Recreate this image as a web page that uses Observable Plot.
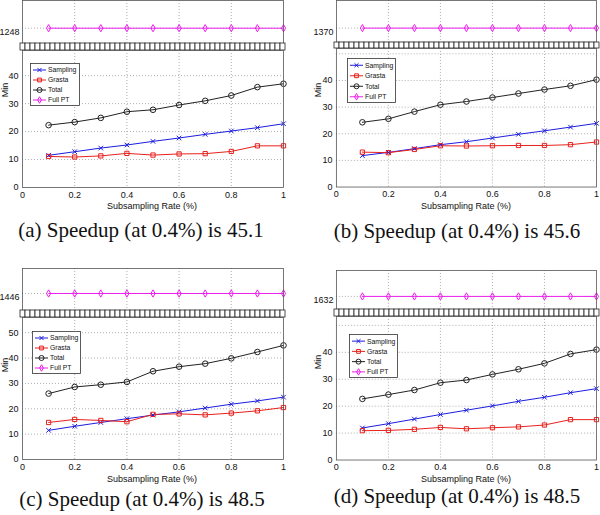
<!DOCTYPE html>
<html><head><meta charset="utf-8">
<script src="https://cdn.jsdelivr.net/npm/d3@7"></script>
<script src="https://cdn.jsdelivr.net/npm/@observablehq/plot@0.6"></script>
<style>
body{margin:0;background:#fff;}
#fig{position:relative;width:600px;height:515px;overflow:hidden;font-family:"Liberation Sans",Arial,sans-serif;background:#fff;}
#fig > div, #fig > svg{position:absolute;}
.lbl{font-size:9px;color:#111;white-space:nowrap;transform:translate(-50%,-50%);line-height:9px;}
.ylbl{font-size:9px;color:#111;white-space:nowrap;transform:translate(-50%,-50%) rotate(-90deg);line-height:9px;}
.cap{font-family:"Liberation Serif","Times New Roman",serif;font-size:21px;color:#111;white-space:nowrap;transform:translate(-50%,-50%);line-height:21px;}
</style></head><body><div id="fig"></div>
<script>
// ---------------- data ----------------
const rates = [0.1, 0.2, 0.3, 0.4, 0.5, 0.6, 0.7, 0.8, 0.9, 1.0];
const xTicks = [0, 0.2, 0.4, 0.6, 0.8, 1];
const xTickLabels = ["0", "0.2", "0.4", "0.6", "0.8", "1"];
const seriesNames = ["Sampling", "Grasta", "Total", "Full PT"];
const xLabel = "Subsampling Rate (%)";
const yLabel = "Min";

const samplingA = [11.5, 12.8, 14.1, 15.2, 16.5, 17.7, 19.0, 20.2, 21.4, 22.8];
const grastaA   = [11.1, 10.9, 11.3, 12.2, 11.6, 12.0, 12.1, 12.9, 14.9, 14.9];
const totalA    = [22.3, 23.4, 24.9, 27.1, 27.8, 29.5, 31.0, 32.9, 35.9, 37.1];
const fullPTA   = 1248;
const yTicksA   = [0, 10, 20, 30, 40];

const samplingB = [11.8, 13.0, 14.4, 15.9, 17.0, 18.4, 19.8, 21.1, 22.5, 23.9];
const grastaB   = [13.1, 12.9, 14.1, 15.5, 15.4, 15.5, 15.6, 15.6, 15.9, 16.9];
const totalB    = [24.3, 25.6, 28.3, 30.9, 32.1, 33.6, 35.1, 36.6, 38.0, 40.3];
const fullPTB   = 1370;
const yTicksB   = [0, 10, 20, 30, 40];

const samplingC = [11.5, 13.1, 14.6, 16.1, 17.5, 18.8, 20.3, 21.8, 23.1, 24.6];
const grastaC   = [14.6, 15.8, 15.4, 14.9, 17.8, 18.0, 17.6, 18.3, 19.2, 20.5];
const totalC    = [26.0, 28.6, 29.5, 30.6, 34.8, 36.6, 37.8, 39.9, 42.4, 45.0];
const fullPTC   = 1446;
const yTicksC   = [0, 10, 20, 30, 40, 50];

const samplingD = [11.9, 13.5, 15.2, 16.9, 18.5, 20.1, 21.8, 23.3, 25.0, 26.5];
const grastaD   = [10.9, 11.0, 11.4, 12.1, 11.6, 12.0, 12.3, 13.0, 15.0, 15.0];
const totalD    = [22.7, 24.3, 26.0, 28.7, 29.7, 31.8, 33.7, 35.9, 39.4, 41.0];
const fullPTD   = 1632;
const yTicksD   = [0, 10, 20, 30, 40];

const yGridValues = [10, 20, 30, 40, 50];
const captions = [
  "(a) Speedup (at 0.4%) is 45.1",
  "(b) Speedup (at 0.4%) is 45.6",
  "(c) Speedup (at 0.4%) is 48.5",
  "(d) Speedup (at 0.4%) is 48.5"
];

// ---------------- styles / layout ----------------
const colors = ["#1c1ce0", "#e8201c", "#222222", "#ee1fee"];
const symbols = ["times", "square", "circle", "diamond"];
const d3symbols = [d3.symbolTimes, d3.symbolSquare, d3.symbolCircle, d3.symbolDiamond];
const radii = [2.2, 2.4, 2.8, 2.2];
const gridStyle = {stroke: "#9a9a9a", strokeDasharray: "1,2", strokeWidth: 0.8};
const frameColor = "#555";

const layout = [
  {L: 22,  R: 283, upTop: 0,   upBot: 43,  bandBot: 50,  loBot: 187, yMax: 49,   fullFrac: 0.356,
   legend: {x: 30, y: 63, w: 50, h: 43}, xl: {x: 152, y: 206}, yl: {x: 5, y: 90}, cap: {x: 141, y: 230}},
  {L: 336, R: 597, upTop: 0,   upBot: 42,  bandBot: 48,  loBot: 187, yMax: 52,   fullFrac: 0.34,
   legend: {x: 347, y: 58, w: 49, h: 45}, xl: {x: 466, y: 206}, yl: {x: 318, y: 90}, cap: {x: 457, y: 231}},
  {L: 22,  R: 283, upTop: 268, upBot: 310, bandBot: 317, loBot: 459, yMax: 56,   fullFrac: 0.405,
   legend: {x: 32, y: 331, w: 49, h: 43}, xl: {x: 152, y: 479}, yl: {x: 5, y: 365}, cap: {x: 142, y: 499}},
  {L: 336, R: 597, upTop: 270, upBot: 309, bandBot: 316, loBot: 460, yMax: 53.3, fullFrac: 0.333,
   legend: {x: 349, y: 334, w: 49, h: 44}, xl: {x: 466, y: 479}, yl: {x: 318, y: 362}, cap: {x: 457, y: 496}}
];

const panels = [
  {sampling: samplingA, grasta: grastaA, total: totalA, full: fullPTA, yTicks: yTicksA},
  {sampling: samplingB, grasta: grastaB, total: totalB, full: fullPTB, yTicks: yTicksB},
  {sampling: samplingC, grasta: grastaC, total: totalC, full: fullPTC, yTicks: yTicksC},
  {sampling: samplingD, grasta: grastaD, total: totalD, full: fullPTD, yTicks: yTicksD}
];

const fig = document.getElementById("fig");
const baseStyle = {background: "transparent", fontSize: "9px", fontFamily: "'Liberation Sans', Arial, sans-serif", color: "#111", overflow: "visible"};

function place(node, left, top) {
  const div = document.createElement("div");
  div.style.left = left + "px";
  div.style.top = top + "px";
  div.style.lineHeight = "0";
  div.appendChild(node);
  fig.appendChild(div);
}
function addText(cls, text, x, y) {
  const div = document.createElement("div");
  div.className = cls;
  div.textContent = text;
  div.style.left = x + "px";
  div.style.top = y + "px";
  fig.appendChild(div);
}

panels.forEach((p, k) => {
  const lay = layout[k];
  const W = lay.R - lay.L;
  const ml = 40, mr = 4;

  // ---- upper (broken) part: Full PT ----
  const fullData = rates.map(r => ({x: r, y: p.full}));
  const hUp = lay.upBot - lay.upTop;
  const span = 100;
  const upper = Plot.plot({
    width: ml + W + mr, height: hUp + 1,
    marginLeft: ml, marginRight: mr, marginTop: 1, marginBottom: 0,
    style: baseStyle,
    x: {domain: [0, 1], axis: null},
    y: {domain: [p.full - lay.fullFrac * span, p.full + (1 - lay.fullFrac) * span], axis: null},
    marks: [
      Plot.ruleX(xTicks.slice(1, -1), gridStyle),
      Plot.ruleY([p.full], gridStyle),
      Plot.line(fullData, {x: "x", y: "y", stroke: colors[3], strokeWidth: 1}),
      Plot.dot(fullData, {x: "x", y: "y", symbol: symbols[3], stroke: colors[3], fill: "none", r: radii[3], strokeWidth: 1}),
      Plot.text([p.full], {y: d => d, frameAnchor: "left", dx: -3, dy: 4, textAnchor: "end", text: d => String(d), fontSize: 9, fill: "#111"}),
      Plot.frame({stroke: frameColor, strokeWidth: 0.8})
    ]
  });
  place(upper, lay.L - ml, lay.upTop - 1);

  // ---- break band ----
  const nCells = Math.round((W + 4) / 5);
  const cells = d3.range(nCells);
  const band = Plot.plot({
    width: W + 4, height: lay.bandBot - lay.upBot,
    margin: 0,
    style: baseStyle,
    x: {domain: [0, nCells], axis: null},
    y: {domain: [0, 1], axis: null},
    marks: [
      Plot.rect(cells, {x1: d => d, x2: d => d + 1, y1: 0, y2: 1, fill: "white", stroke: "#222", strokeWidth: 0.8})
    ]
  });
  place(band, lay.L - 2, lay.upBot);

  // ---- lower part ----
  const rows = [];
  [p.sampling, p.grasta, p.total].forEach((vals, s) => {
    vals.forEach((v, i) => rows.push({series: seriesNames[s], s, x: rates[i], y: v}));
  });
  const hLo = lay.loBot - lay.bandBot;
  const lower = Plot.plot({
    width: ml + W + mr, height: hLo + 30,
    marginLeft: ml, marginRight: mr, marginTop: 0, marginBottom: 30,
    style: baseStyle,
    x: {domain: [0, 1], ticks: xTicks, tickFormat: d => xTickLabels[xTicks.indexOf(d)], tickSize: 0, tickPadding: 4, label: null},
    y: {domain: [0, lay.yMax], ticks: p.yTicks, tickFormat: d => String(d), tickSize: 0, tickPadding: 4, label: null},
    marks: [
      Plot.ruleX(xTicks.slice(1, -1), gridStyle),
      Plot.ruleY(yGridValues.filter(v => v < lay.yMax), gridStyle),
      ...[0, 1, 2].map(s => Plot.line(rows.filter(d => d.s === s), {x: "x", y: "y", stroke: colors[s], strokeWidth: 1})),
      ...[0, 1, 2].map(s => Plot.dot(rows.filter(d => d.s === s), {x: "x", y: "y", symbol: symbols[s], stroke: colors[s], fill: "none", r: radii[s], strokeWidth: 1})),
      Plot.frame({stroke: frameColor, strokeWidth: 0.8})
    ]
  });
  place(lower, lay.L - ml, lay.bandBot);

  // ---- legend ----
  const lg = lay.legend;
  const svg = d3.create("svg").attr("width", lg.w).attr("height", lg.h)
    .style("left", lg.x + "px").style("top", lg.y + "px").style("position", "absolute");
  svg.append("rect").attr("x", 0.5).attr("y", 0.5).attr("width", lg.w - 1).attr("height", lg.h - 1)
    .attr("fill", "white").attr("stroke", "#333").attr("stroke-width", 0.8);
  seriesNames.forEach((name, i) => {
    const cy = 1.5 + (i + 0.55) * (lg.h - 3) / 4;
    svg.append("line").attr("x1", 3).attr("x2", 16).attr("y1", cy).attr("y2", cy)
      .attr("stroke", colors[i]).attr("stroke-width", 1);
    svg.append("path").attr("d", d3.symbol(d3symbols[i], Math.PI * radii[i] * radii[i] * 0.8)())
      .attr("transform", `translate(9.5,${cy})`).attr("fill", "none").attr("stroke", colors[i]).attr("stroke-width", 1);
    svg.append("text").attr("x", 18).attr("y", cy).attr("dy", "0.35em")
      .attr("font-size", 6.8).attr("font-family", "'Liberation Sans', Arial, sans-serif").attr("fill", "#111").text(name);
  });
  fig.appendChild(svg.node());

  // ---- labels ----
  addText("lbl", xLabel, lay.xl.x, lay.xl.y);
  addText("ylbl", yLabel, lay.yl.x, lay.yl.y);
  addText("cap", captions[k], lay.cap.x, lay.cap.y);
});
</script>
</body></html>
